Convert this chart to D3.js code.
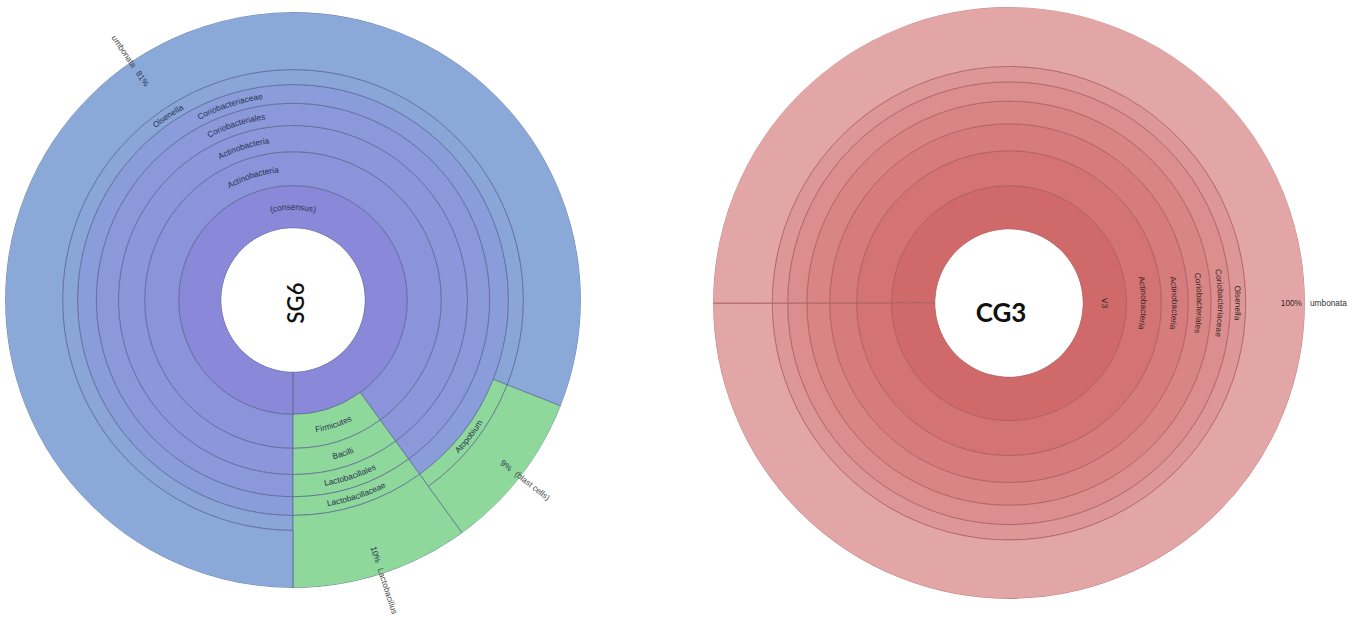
<!DOCTYPE html>
<html>
<head>
<meta charset="utf-8">
<script src="https://cdn.jsdelivr.net/npm/d3@7"></script>
<style>
  html, body { margin: 0; padding: 0; background: #fff; }
  svg { display: block; }
</style>
</head>
<body>
<svg id="chart" width="1360" height="620"></svg>
<script>
// ---- Data: lineages from the innermost ring outward, with their share (%) ----
const sg6Lineages = [
  ["(consensus)", "Actinobacteria", "Actinobacteria", "Coriobacteriales", "Coriobacteriaceae", "Olsenella", "umbonata"],
  ["(consensus)", "Actinobacteria", "Actinobacteria", "Coriobacteriales", "Coriobacteriaceae", "Atopobium", "(blast cells)"],
  ["(consensus)", "Firmicutes", "Bacilli", "Lactobacillales", "Lactobacillaceae", "Lactobacillus"]
];
const sg6Values = [81, 9, 10];

const cg3Lineages = [
  ["V3", "Actinobacteria", "Actinobacteria", "Coriobacteriales", "Coriobacteriaceae", "Olsenella", "umbonata"]
];
const cg3Values = [100];

const sampleNames = ["SG6", "CG3"];

// ---- Layout and styling ----
const TAU = 2 * Math.PI;
// ring edges as a fraction of the outer radius (index = depth - 1 is the inner edge)
const ringFrac = [0.25, 0.397, 0.515, 0.606, 0.683, 0.748, 0.80, 1];

const charts = [
  {
    title: sampleNames[0], lineages: sg6Lineages, values: sg6Values,
    cx: 293, cy: 300, R: 288, start: Math.PI,
    depthColors: ["#8a89d9", "#8b93db", "#8b96db", "#8b99db", "#8a9dda", "#8aa6d9", "#8aa9d8"],
    accent: "#8fd89b", accentRoots: ["Firmicutes", "Atopobium"],
    stroke: "#56628f", text: "#27304f", leafText: "#444",
    pctGap: 12, nameGap: -6,
    titleX: 296, titleY: 303, titleRot: -90, titleSize: 22, titleWeight: 600
  },
  {
    title: sampleNames[1], lineages: cg3Lineages, values: cg3Values,
    cx: 1009, cy: 303, R: 296, start: -Math.PI / 2,
    depthColors: ["#d06a6a", "#d37373", "#d67c7c", "#d98585", "#dc8e8e", "#de9797", "#e3a6a6"],
    accent: null, accentRoots: [],
    stroke: "#a85858", text: "#3a2424", leafText: "#333",
    pctGap: 3, nameGap: 5,
    titleX: 1001, titleY: 313, titleRot: 0, titleSize: 26, titleWeight: 700
  }
];

function buildTree(lineages, values) {
  const root = { name: "root", children: [] };
  lineages.forEach((path, i) => {
    let node = root;
    path.forEach(name => {
      let child = node.children.find(c => c.name === name);
      if (!child) { child = { name, children: [] }; node.children.push(child); }
      node = child;
    });
    node.value = values[i];
  });
  return root;
}

const svg = d3.select("#chart");
svg.append("rect").attr("width", 1360).attr("height", 620).attr("fill", "#fff");
const defs = svg.append("defs");

let pathId = 0;
const labelFont = "'Liberation Sans', Arial, sans-serif";
const fontSize = 8.3;

charts.forEach(cfg => {
  const root = d3.hierarchy(buildTree(cfg.lineages, cfg.values),
      d => (d.children && d.children.length ? d.children : null))
    .sum(d => d.value || 0);
  d3.partition().size([TAU, 1])(root);

  const R = cfg.R;
  const innerR = d => ringFrac[d.depth - 1] * R;
  const outerR = d => (d.children ? ringFrac[d.depth] * R : R);
  const a0 = d => cfg.start + d.x0;
  const a1 = d => cfg.start + d.x1;

  const colorFor = d => {
    const accented = d.ancestors().some(a => cfg.accentRoots.includes(a.data.name));
    return accented ? cfg.accent : cfg.depthColors[d.depth - 1];
  };

  const arc = d3.arc()
    .innerRadius(innerR)
    .outerRadius(outerR)
    .startAngle(a0)
    .endAngle(d => Math.min(a1(d), a0(d) + TAU - 0.002));

  const g = svg.append("g").attr("transform", `translate(${cfg.cx},${cfg.cy})`);
  const nodes = root.descendants().filter(d => d.depth > 0);

  g.selectAll("path.wedge")
    .data(nodes)
    .join("path")
    .attr("class", "wedge")
    .attr("d", arc)
    .attr("fill", colorFor)
    .attr("stroke", cfg.stroke)
    .attr("stroke-opacity", 0.75)
    .attr("stroke-width", 0.9);

  // soften the outer rim
  g.append("circle").attr("r", R + 0.6)
    .attr("fill", "none").attr("stroke", "#fff").attr("stroke-width", 1.4);

  // white centre with the sample name
  g.append("circle").attr("r", ringFrac[0] * R - 0.5).attr("fill", "#fff");

  svg.append("text")
    .attr("transform", `translate(${cfg.titleX},${cfg.titleY}) rotate(${cfg.titleRot})`)
    .attr("text-anchor", "middle")
    .attr("dy", "0.35em")
    .attr("font-family", "Lato, 'Open Sans', sans-serif")
    .attr("font-size", cfg.titleSize)
    .attr("font-weight", cfg.titleWeight)
    .attr("fill", "#111")
    .text(cfg.title);

  // curved labels for inner (non-leaf) rings
  nodes.filter(d => d.children).forEach(d => {
    const mid = (a0(d) + a1(d)) / 2;
    const m = ((mid % TAU) + TAU) % TAU;
    const flip = m > Math.PI / 2 + 1e-6 && m < 3 * Math.PI / 2 - 1e-6;
    const half = Math.min(d.x1 - d.x0, Math.PI * 0.98) / 2;
    const rMid = (innerR(d) + outerR(d)) / 2;
    const r = flip ? rMid + fontSize * 0.35 : rMid - fontSize * 0.35;
    const p = ang => [cfg.cx + r * Math.sin(ang), cfg.cy - r * Math.cos(ang)];
    let s, e, sweep;
    if (!flip) { s = p(mid - half); e = p(mid + half); sweep = 1; }
    else { s = p(mid + half); e = p(mid - half); sweep = 0; }
    const large = half * 2 > Math.PI ? 1 : 0;
    const id = "lbl" + (pathId++);
    defs.append("path")
      .attr("id", id)
      .attr("d", `M${s[0]},${s[1]} A${r},${r} 0 ${large} ${sweep} ${e[0]},${e[1]}`);
    svg.append("text")
      .attr("font-family", labelFont)
      .attr("font-size", fontSize)
      .attr("fill", cfg.text)
      .append("textPath")
      .attr("href", "#" + id)
      .attr("startOffset", "50%")
      .attr("text-anchor", "middle")
      .text(d.data.name);
  });

  // radial labels for leaves: percentage inside the rim, name running outward
  nodes.filter(d => !d.children).forEach(d => {
    const mid = (a0(d) + a1(d)) / 2;
    const m = ((mid % TAU) + TAU) % TAU;
    const flip = m > Math.PI + 1e-6;
    const deg = m * 180 / Math.PI - 90;
    const lg = g.append("g").attr("transform", `rotate(${deg})${flip ? " rotate(180)" : ""}`);
    const sgn = flip ? -1 : 1;
    const pct = Math.round((d.x1 - d.x0) / TAU * 100) + "%";
    lg.append("text")
      .attr("x", sgn * (R - cfg.pctGap))
      .attr("dy", "0.35em")
      .attr("text-anchor", flip ? "start" : "end")
      .attr("font-family", labelFont)
      .attr("font-size", fontSize)
      .attr("fill", cfg.text)
      .text(pct);
    lg.append("text")
      .attr("x", sgn * (R + cfg.nameGap))
      .attr("dy", "0.35em")
      .attr("text-anchor", flip ? "end" : "start")
      .attr("font-family", labelFont)
      .attr("font-size", fontSize)
      .attr("fill", cfg.leafText)
      .text(d.data.name);
  });
});
</script>
</body>
</html>
